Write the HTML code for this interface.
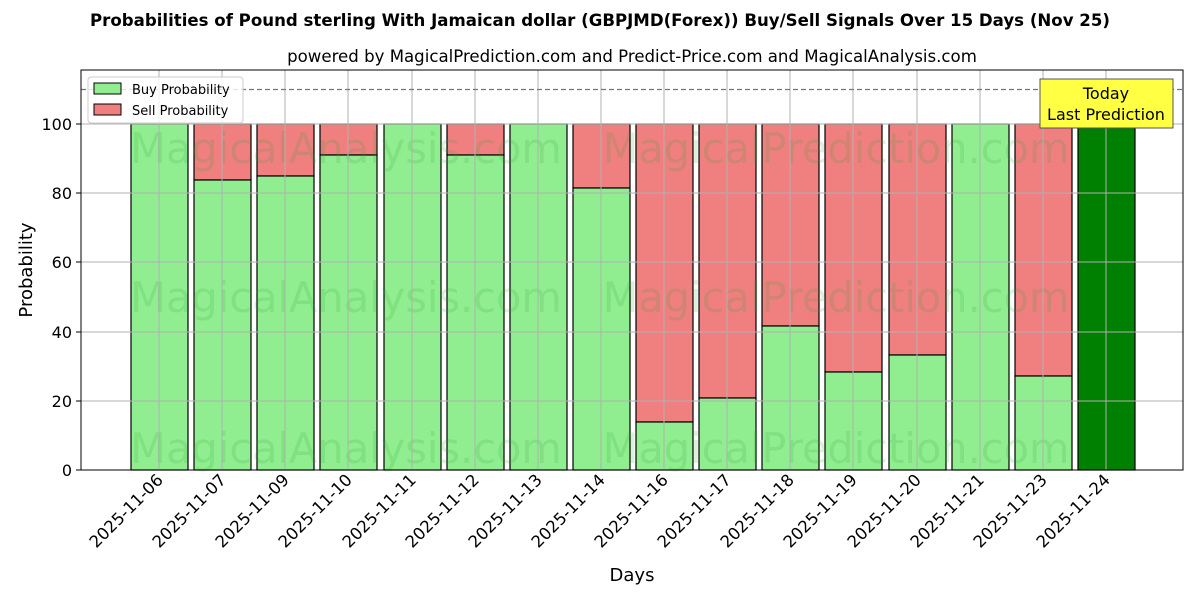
<!DOCTYPE html>
<html><head><meta charset="utf-8"><style>
body{margin:0;background:#fff;}
svg text{font-family:"DejaVu Sans","Liberation Sans",sans-serif;}
</style></head><body>
<svg width="1200" height="600" xmlns="http://www.w3.org/2000/svg">
<rect width="1200" height="600" fill="#fff"/>
<text x="600" y="26" text-anchor="middle" font-size="16.6" font-weight="bold">Probabilities of Pound sterling With Jamaican dollar (GBPJMD(Forex)) Buy/Sell Signals Over 15 Days (Nov 25)</text>
<text x="632" y="62" text-anchor="middle" font-size="16.6">powered by MagicalPrediction.com and Predict-Price.com and MagicalAnalysis.com</text>
<g id="bars" stroke="#000" stroke-width="1.2">
<rect x="131" y="124" width="57" height="346" fill="#90ee90"/>
<rect x="194" y="124" width="57" height="56" fill="#f08080"/><rect x="194" y="180" width="57" height="290" fill="#90ee90"/>
<rect x="257" y="124" width="57" height="52" fill="#f08080"/><rect x="257" y="176" width="57" height="294" fill="#90ee90"/>
<rect x="320" y="124" width="57" height="31" fill="#f08080"/><rect x="320" y="155" width="57" height="315" fill="#90ee90"/>
<rect x="384" y="124" width="57" height="346" fill="#90ee90"/>
<rect x="447" y="124" width="57" height="31" fill="#f08080"/><rect x="447" y="155" width="57" height="315" fill="#90ee90"/>
<rect x="510" y="124" width="57" height="346" fill="#90ee90"/>
<rect x="573" y="124" width="57" height="64" fill="#f08080"/><rect x="573" y="188" width="57" height="282" fill="#90ee90"/>
<rect x="636" y="124" width="57" height="298" fill="#f08080"/><rect x="636" y="422" width="57" height="48" fill="#90ee90"/>
<rect x="699" y="124" width="57" height="274" fill="#f08080"/><rect x="699" y="398" width="57" height="72" fill="#90ee90"/>
<rect x="762" y="124" width="57" height="202" fill="#f08080"/><rect x="762" y="326" width="57" height="144" fill="#90ee90"/>
<rect x="825" y="124" width="57" height="248" fill="#f08080"/><rect x="825" y="372" width="57" height="98" fill="#90ee90"/>
<rect x="889" y="124" width="57" height="231" fill="#f08080"/><rect x="889" y="355" width="57" height="115" fill="#90ee90"/>
<rect x="952" y="124" width="57" height="346" fill="#90ee90"/>
<rect x="1015" y="124" width="57" height="252" fill="#f08080"/><rect x="1015" y="376" width="57" height="94" fill="#90ee90"/>
<rect x="1078" y="124" width="57" height="346" fill="#008000"/>
</g>
<g font-size="41.5" fill="#2ca02c" fill-opacity="0.16" text-anchor="middle">
<text x="346" y="163">MagicalAnalysis.com</text><text x="836" y="163">MagicalPrediction.com</text>
<text x="346" y="312">MagicalAnalysis.com</text><text x="836" y="312">MagicalPrediction.com</text>
<text x="346" y="463">MagicalAnalysis.com</text><text x="836" y="463">MagicalPrediction.com</text>
</g>
<g stroke="#b0b0b0" stroke-width="1">
<line x1="81" x2="1183" y1="401" y2="401"/><line x1="81" x2="1183" y1="332" y2="332"/>
<line x1="81" x2="1183" y1="262" y2="262"/><line x1="81" x2="1183" y1="193" y2="193"/>
<line x1="81" x2="1183" y1="124" y2="124"/>
<line x1="159" x2="159" y1="70" y2="470"/><line x1="222" x2="222" y1="70" y2="470"/><line x1="285" x2="285" y1="70" y2="470"/><line x1="348" x2="348" y1="70" y2="470"/><line x1="412" x2="412" y1="70" y2="470"/><line x1="475" x2="475" y1="70" y2="470"/><line x1="538" x2="538" y1="70" y2="470"/><line x1="601" x2="601" y1="70" y2="470"/><line x1="664" x2="664" y1="70" y2="470"/><line x1="727" x2="727" y1="70" y2="470"/><line x1="790" x2="790" y1="70" y2="470"/><line x1="853" x2="853" y1="70" y2="470"/><line x1="917" x2="917" y1="70" y2="470"/><line x1="980" x2="980" y1="70" y2="470"/><line x1="1043" x2="1043" y1="70" y2="470"/><line x1="1106" x2="1106" y1="70" y2="470"/>
</g>
<line x1="81" x2="1183" y1="89.5" y2="89.5" stroke="#777" stroke-dasharray="5,3" stroke-width="1.2"/>
<rect x="81" y="70" width="1102" height="400" fill="none" stroke="#000" stroke-width="1"/>
<g font-size="16" text-anchor="end">
<text x="72" y="476">0</text><text x="72" y="407">20</text><text x="72" y="338">40</text><text x="72" y="268">60</text><text x="72" y="199">80</text><text x="72" y="130">100</text>
</g>
<g stroke="#000"><line x1="76" x2="81" y1="470" y2="470"/><line x1="76" x2="81" y1="401" y2="401"/><line x1="76" x2="81" y1="332" y2="332"/><line x1="76" x2="81" y1="262" y2="262"/><line x1="76" x2="81" y1="193" y2="193"/><line x1="76" x2="81" y1="124" y2="124"/></g>
<g font-size="16.5" text-anchor="end">
<text transform="translate(164,481) rotate(-45)">2025-11-06</text>
<text transform="translate(227,481) rotate(-45)">2025-11-07</text>
<text transform="translate(290,481) rotate(-45)">2025-11-09</text>
<text transform="translate(353,481) rotate(-45)">2025-11-10</text>
<text transform="translate(417,481) rotate(-45)">2025-11-11</text>
<text transform="translate(480,481) rotate(-45)">2025-11-12</text>
<text transform="translate(543,481) rotate(-45)">2025-11-13</text>
<text transform="translate(606,481) rotate(-45)">2025-11-14</text>
<text transform="translate(669,481) rotate(-45)">2025-11-16</text>
<text transform="translate(732,481) rotate(-45)">2025-11-17</text>
<text transform="translate(795,481) rotate(-45)">2025-11-18</text>
<text transform="translate(858,481) rotate(-45)">2025-11-19</text>
<text transform="translate(922,481) rotate(-45)">2025-11-20</text>
<text transform="translate(985,481) rotate(-45)">2025-11-21</text>
<text transform="translate(1048,481) rotate(-45)">2025-11-23</text>
<text transform="translate(1111,481) rotate(-45)">2025-11-24</text>
</g>
<text x="632" y="581" text-anchor="middle" font-size="18">Days</text>
<text transform="translate(32,270) rotate(-90)" text-anchor="middle" font-size="18">Probability</text>
<rect x="88" y="77" width="155" height="46" fill="#fff" fill-opacity="0.8" stroke="#ccc" rx="3"/>
<rect x="94" y="83" width="27" height="11" fill="#90ee90" stroke="#000"/>
<text x="132" y="94" font-size="13">Buy Probability</text>
<rect x="94" y="104" width="27" height="11" fill="#f08080" stroke="#000"/>
<text x="132" y="115" font-size="13">Sell Probability</text>
<rect x="1040" y="79" width="133" height="49" fill="#ffff44" stroke="#555"/>
<text x="1106" y="99" text-anchor="middle" font-size="16">Today</text>
<text x="1106" y="120" text-anchor="middle" font-size="16">Last Prediction</text>
</svg>
</body></html>
